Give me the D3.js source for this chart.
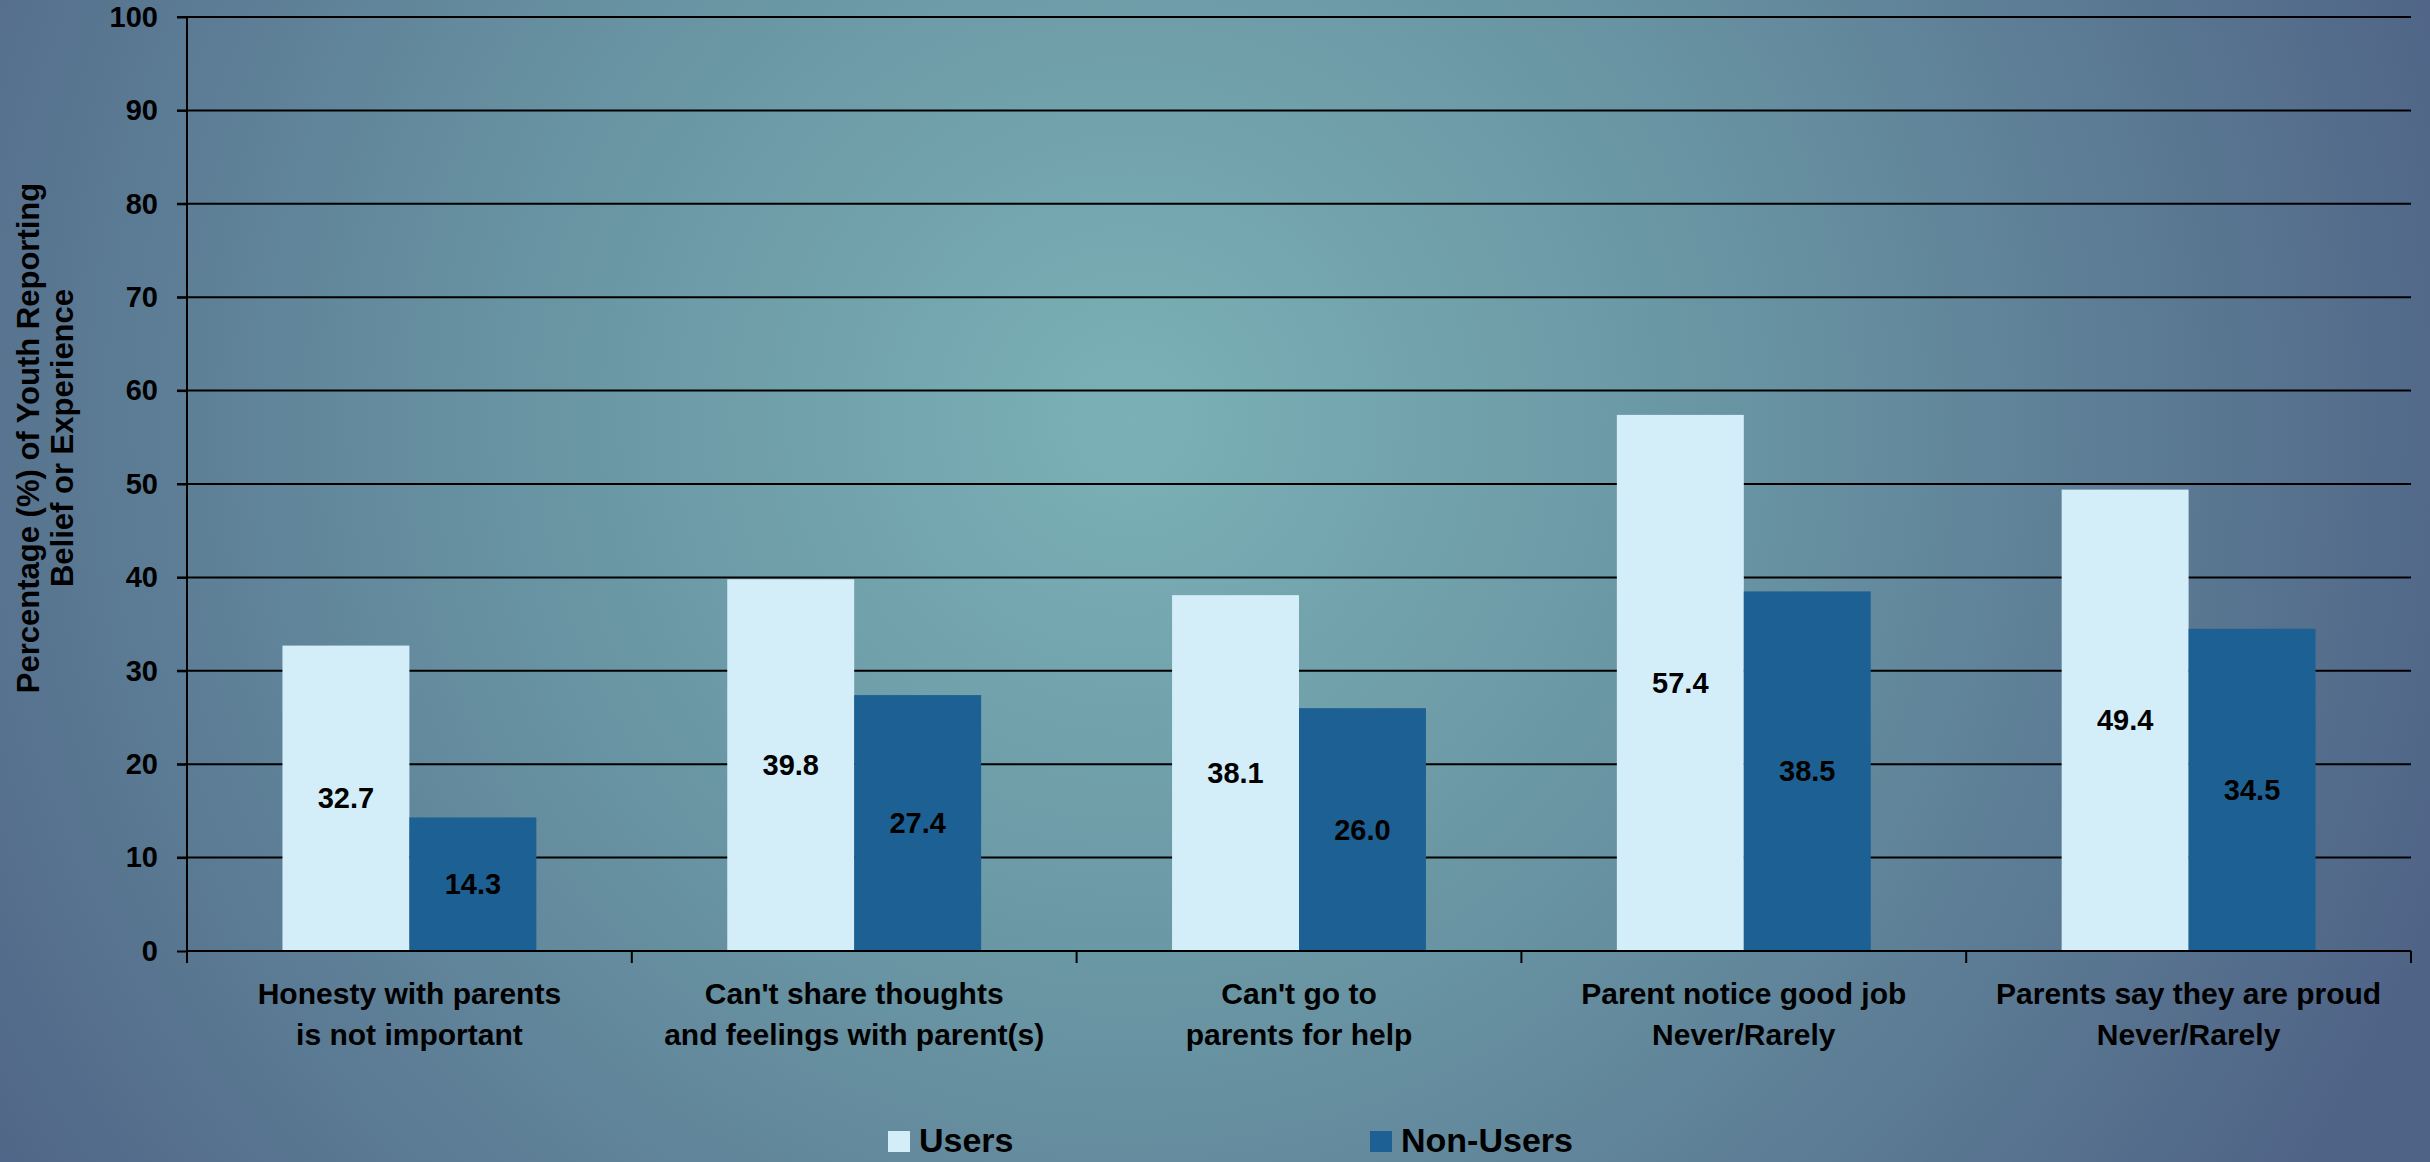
<!DOCTYPE html>
<html>
<head>
<meta charset="utf-8">
<script src="https://cdn.jsdelivr.net/npm/d3@7"></script>
<style>
html,body{margin:0;padding:0;overflow:hidden;background:#5a7a93;}
svg{display:block;}
text{font-family:"Liberation Sans",Arial,sans-serif;font-weight:bold;fill:#000;}
</style>
</head>
<body>
<svg id="chart" width="2430" height="1162"></svg>
<script>
const categories = [
  ["Honesty with parents", "is not important"],
  ["Can't share thoughts", "and feelings with parent(s)"],
  ["Can't go to", "parents for help"],
  ["Parent notice good job", "Never/Rarely"],
  ["Parents say they are proud", "Never/Rarely"]
];
const seriesNames = ["Users", "Non-Users"];
const usersValues = [32.7, 39.8, 38.1, 57.4, 49.4];
const nonUsersValues = [14.3, 27.4, 26.0, 38.5, 34.5];
const yTicks = [0, 10, 20, 30, 40, 50, 60, 70, 80, 90, 100];
const yTitle = ["Percentage (%) of Youth Reporting", "Belief or Experience"];
const colors = ["#d4eef9", "#1d6194"];

const svg = d3.select("#chart");
const W = 2430, H = 1162;

// background
const defs = svg.append("defs");
const grad = defs.append("radialGradient").attr("id","bg")
  .attr("gradientUnits","userSpaceOnUse")
  .attr("cx",1130).attr("cy",420).attr("r",1400);
grad.append("stop").attr("offset","0").attr("stop-color","#7bb1b6");
grad.append("stop").attr("offset","0.45").attr("stop-color","#6893a2");
grad.append("stop").attr("offset","1").attr("stop-color","#4f6386");
svg.append("rect").attr("width",W).attr("height",H).attr("fill","url(#bg)");

const m = {left:187, right:2411, top:17, bottom:951};
const idx = d3.range(categories.length);
const x0 = d3.scaleBand().domain(idx).range([m.left, m.right]).paddingInner(0).paddingOuter(0);
const y = d3.scaleLinear().domain([0,100]).range([m.bottom, m.top]);
const x1 = d3.scaleBand().domain(seriesNames).range([0, x0.bandwidth()]).paddingOuter(0.752).paddingInner(0);

// gridlines
svg.append("g").selectAll("line").data(yTicks.filter(d=>d>0)).join("line")
  .attr("x1", m.left-10).attr("x2", m.right)
  .attr("y1", d=>y(d)).attr("y2", d=>y(d))
  .attr("stroke","#000").attr("stroke-width",2);

// y axis
const yAxis = d3.axisLeft(y).tickValues(yTicks).tickSize(10).tickPadding(19).tickFormat(d3.format("d"));
const gy = svg.append("g").attr("transform",`translate(${m.left},0)`).call(yAxis);
gy.select(".domain").remove();
gy.selectAll(".tick line").attr("stroke","#000").attr("stroke-width",2);
gy.selectAll(".tick text").attr("font-size",29).attr("font-family","Liberation Sans, Arial, sans-serif").attr("font-weight","bold").attr("fill","#000");
svg.append("line").attr("x1",m.left).attr("x2",m.left).attr("y1",m.top).attr("y2",m.bottom+12)
  .attr("stroke","#000").attr("stroke-width",2);

// bars
const data = idx.map(i => ({i, vals:[
  {key:seriesNames[0], v:usersValues[i], c:colors[0]},
  {key:seriesNames[1], v:nonUsersValues[i], c:colors[1]}
]}));
const groups = svg.append("g").selectAll("g").data(data).join("g")
  .attr("transform", d=>`translate(${x0(d.i)},0)`);
groups.selectAll("rect").data(d=>d.vals).join("rect")
  .attr("x", d=>x1(d.key)).attr("width", x1.bandwidth())
  .attr("y", d=>y(d.v)).attr("height", d=>y(0)-y(d.v))
  .attr("fill", d=>d.c);
groups.selectAll("text").data(d=>d.vals).join("text")
  .attr("x", d=>x1(d.key)+x1.bandwidth()/2)
  .attr("y", d=>(y(d.v)+y(0))/2)
  .attr("text-anchor","middle").attr("dominant-baseline","central")
  .attr("font-size",29)
  .text(d=>d3.format(".1f")(d.v));

// x axis baseline and ticks
svg.append("line").attr("x1",m.left).attr("x2",m.right).attr("y1",y(0)).attr("y2",y(0))
  .attr("stroke","#000").attr("stroke-width",2);
const xBounds = idx.map(i=>x0(i)+x0.bandwidth());
svg.append("g").selectAll("line").data(xBounds).join("line")
  .attr("x1",d=>d).attr("x2",d=>d).attr("y1",y(0)).attr("y2",y(0)+12)
  .attr("stroke","#000").attr("stroke-width",2);

// category labels
const cl = svg.append("g").selectAll("text").data(idx).join("text")
  .attr("x", i=>x0(i)+x0.bandwidth()/2).attr("y",1004)
  .attr("text-anchor","middle").attr("font-size",30);
cl.selectAll("tspan").data(i=>categories[i].map((t,k)=>({t,k,i}))).join("tspan")
  .attr("x", d=>x0(d.i)+x0.bandwidth()/2)
  .attr("dy", d=>d.k===0?0:41)
  .text(d=>d.t);

// y title
const yt = svg.append("text").attr("transform","translate(39,438) rotate(-90)")
  .attr("text-anchor","middle").attr("font-size",31);
yt.selectAll("tspan").data(yTitle).join("tspan")
  .attr("x",0).attr("dy",(d,k)=>k===0?0:34).text(d=>d);

// legend
const legendX = [888, 1370];
const lg = svg.append("g").selectAll("g").data(seriesNames).join("g")
  .attr("transform",(d,k)=>`translate(${legendX[k]},1131)`);
lg.append("rect").attr("width",22).attr("height",21).attr("fill",(d,k)=>colors[k]);
lg.append("text").attr("x",31).attr("y",21).attr("font-size",34).text(d=>d);
</script>
</body>
</html>
